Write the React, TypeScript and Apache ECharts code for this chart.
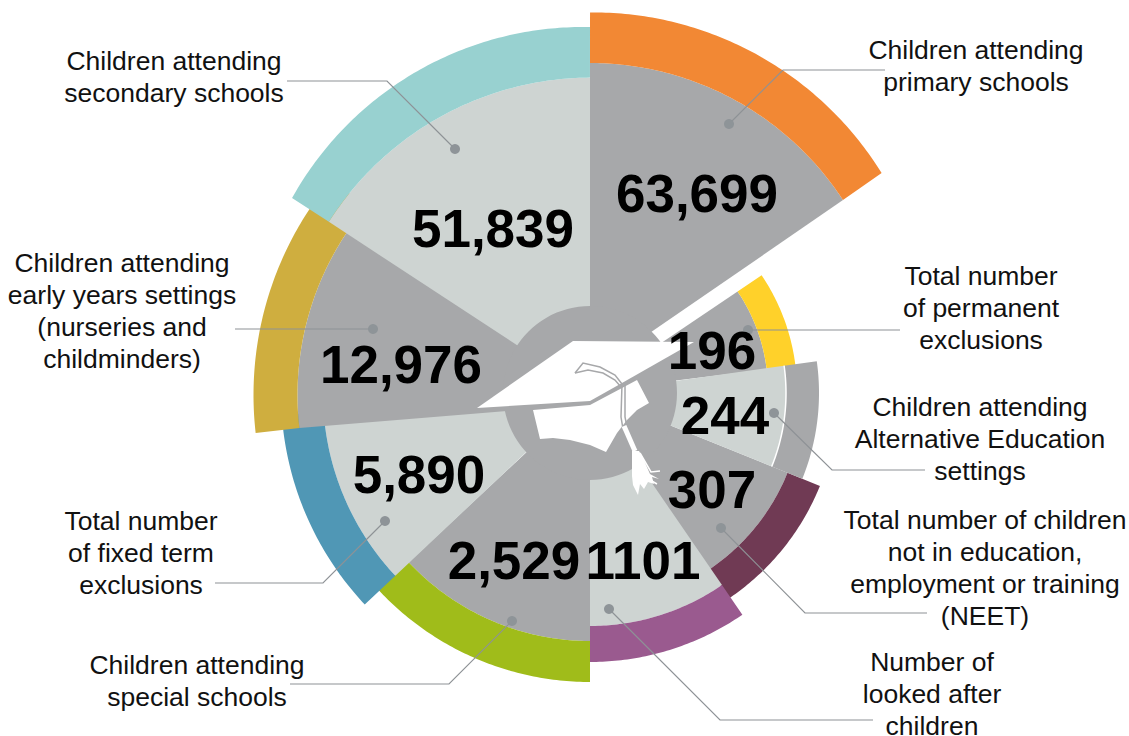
import React, { useEffect, useRef } from "react";
import * as echarts from "echarts";

const categories = [
  "Children attending primary schools",
  "Total number of permanent exclusions",
  "Total number of children not in education, employment or training (NEET)",
  "Children attending Alternative Education settings",
  "Children attending special schools",
  "Total number of fixed term exclusions",
  "Number of looked after children",
  "Children attending early years settings (nurseries and childminders)",
  "Children attending secondary schools",
];
const valueLabels = ["63,699", "196", "307", "244", "2,529", "5,890", "1101", "12,976", "51,839"];
const bandColors = ["#F28834", "#FFD12A", "#703A54", "#A7A8AA", "#A0BC1A", "#5097B5", "#9A5A8F", "#CFAE3F", "#98D1D0"];
const bodyColors = ["#A7A8AA", "#A7A8AA", "#A7A8AA", "#CED4D2", "#A7A8AA", "#CED4D2", "#CED4D2", "#A7A8AA", "#CED4D2"];

// layout of each slice: inner arc [cx, cy, r, a0, a1], outer arc [cx, cy, r, a0, a1] (deg clockwise from top), apex [x, y]
const geometry = [
  { inner: [590, 365, 302, 0, 56.9], outer: [593, 352, 339.6, -0.5, 58.2], apex: [590, 374] },
  { inner: [590, 391, 178, 56, 83], outer: [590, 391, 207, 56, 83], apex: [590, 391] },
  { inner: [590, 393, 213, 112, 146], outer: [590, 393, 248, 112, 146], apex: [590, 393] },
  { inner: [590, 393, 196, 82, 112], outer: [590, 393, 229, 82, 112], apex: [590, 393] },
  { inner: [590, 393, 248, 180, 227], outer: [590, 393, 289, 180, 227], apex: [590, 393] },
  { inner: [590, 393, 267, 226.8, 266], outer: [590, 393, 309, 226.8, 266], apex: [575, 406] },
  { inner: [590, 393, 233, 145.5, 180], outer: [590, 393, 269, 145.5, 180], apex: [590, 393] },
  { inner: [590, 395, 292.5, 263.5, 310], outer: [590, 395, 336.5, 263.5, 310], apex: [590, 404] },
  { inner: [591.6, 389, 311.4, 302.46, 359.7], outer: [583, 360, 333, 299.1, 361.2], apex: [590, 393] },
];
const numberPositions = [[697, 193], [712, 350], [712, 489], [725, 415], [514, 560], [419, 474], [643, 560], [401, 364], [493, 228]];

const labelBlocks = [
  { x: 976, y: 50, lines: ["Children attending", "primary schools"] },
  { x: 174, y: 61, lines: ["Children attending", "secondary schools"] },
  { x: 122, y: 263, lines: ["Children attending", "early years settings", "(nurseries and", "childminders)"] },
  { x: 981, y: 276, lines: ["Total number", "of permanent", "exclusions"] },
  { x: 980, y: 407, lines: ["Children attending", "Alternative Education", "settings"] },
  { x: 985, y: 520, lines: ["Total number of children", "not in education,", "employment or training", "(NEET)"] },
  { x: 932, y: 662, lines: ["Number of", "looked after", "children"] },
  { x: 197, y: 665, lines: ["Children attending", "special schools"] },
  { x: 141, y: 521, lines: ["Total number", "of fixed term", "exclusions"] },
];
const leaders = [
  [[729, 124], [783, 70], [885, 70]],
  [[455, 149], [387, 81], [287, 81]],
  [[373, 329], [235, 329]],
  [[748, 330], [900, 330]],
  [[774, 413], [832, 470], [925, 470]],
  [[721, 528], [805, 613], [927, 613]],
  [[609, 609], [720, 720], [873, 720]],
  [[512, 621], [449, 684], [290, 684]],
  [[385, 521], [323, 583], [215, 583]],
];

const GREY = "#A7A8AA";
const LINE = "#8E9296";
const DOT = "#8E9498";
const FONT = '"Liberation Sans", Arial, sans-serif';

function arc([cx, cy, r, a0, a1]: number[]) {
  const pts: number[][] = [];
  const n = Math.max(8, Math.ceil(Math.abs(a1 - a0) * 1.5));
  for (let i = 0; i <= n; i++) {
    const t = ((a0 + ((a1 - a0) * i) / n) * Math.PI) / 180;
    pts.push([cx + r * Math.sin(t), cy - r * Math.cos(t)]);
  }
  return pts;
}

function renderSlice(params: any) {
  const i = params.dataIndex;
  const g = geometry[i];
  const inner = arc(g.inner);
  const outer = arc(g.outer);
  const children: any[] = [
    { type: "polygon", shape: { points: [g.apex, ...inner] }, style: { fill: bodyColors[i] } },
    { type: "polygon", shape: { points: [...outer, ...inner.slice().reverse()] }, style: { fill: bandColors[i] } },
  ];
  if (valueLabels[i] === "244") {
    children.push({ type: "polyline", shape: { points: inner }, style: { stroke: "#FFFFFF", lineWidth: 1.5, fill: "none" } });
  }
  return { type: "group", children };
}

function renderNumber(params: any) {
  const i = params.dataIndex;
  const [x, y] = numberPositions[i];
  return {
    type: "text",
    style: {
      x,
      y,
      text: valueLabels[i],
      fill: "#000000",
      font: `bold 53px ${FONT}`,
      align: "center",
      verticalAlign: "middle",
    },
  };
}

const capTop = [[573, 341], [694, 342], [622, 383], [590, 401], [477, 408]];
const capBottom = [[533, 410], [590, 405], [622, 388], [637, 380], [649, 403], [637, 410], [627, 420], [617, 433], [606, 452], [590, 445], [570, 440], [553, 438], [540, 439]];
const tasselShape = [[632, 451], [639, 451], [643, 458], [650, 474], [659, 479], [652, 477], [654, 484], [648, 482], [644, 489], [640, 484], [638, 495], [633, 485], [632, 476]];
const tasselStrands = [
  [[640, 453], [651, 472], [660, 471]],
  [[641, 456], [650, 480], [657, 484]],
];

function hatElements() {
  const els: any[] = [
    { type: "circle", z: 5, shape: { cx: 590, cy: 393, r: 87 }, style: { fill: GREY } },
    { type: "polygon", z: 6, shape: { points: capTop }, style: { fill: "#FFFFFF" } },
    { type: "polygon", z: 6, shape: { points: capBottom }, style: { fill: "#FFFFFF" } },
    { type: "polyline", z: 7, shape: { points: [[575, 373], [583, 363], [600, 367], [615, 375], [622, 384]] }, style: { stroke: GREY, lineWidth: 1.5, fill: "none" } },
    { type: "polyline", z: 7, shape: { points: [[575, 373], [588, 370], [603, 373], [615, 380], [621, 387]] }, style: { stroke: GREY, lineWidth: 1.5, fill: "none" } },
    { type: "polyline", z: 7, shape: { points: [[622, 384], [621, 417], [623, 429]] }, style: { stroke: GREY, lineWidth: 1.5, fill: "none" } },
    { type: "polyline", z: 7, shape: { points: [[625, 384], [625, 417], [627, 427]] }, style: { stroke: GREY, lineWidth: 1.5, fill: "none" } },
    { type: "polyline", z: 7, shape: { points: [[624, 426], [635, 451]] }, style: { stroke: "#FFFFFF", lineWidth: 5, fill: "none" } },
    { type: "polygon", z: 7, shape: { points: tasselShape }, style: { fill: "#FFFFFF" } },
  ];
  tasselStrands.forEach((points) => {
    els.push({ type: "polyline", z: 7, shape: { points }, style: { stroke: "#FFFFFF", lineWidth: 1.5, fill: "none" } });
  });
  return els;
}

function leaderElements() {
  const els: any[] = [];
  leaders.forEach((points) => {
    els.push({ type: "polyline", z: 8, shape: { points }, style: { stroke: LINE, lineWidth: 1.2, fill: "none" } });
    els.push({ type: "circle", z: 9, shape: { cx: points[0][0], cy: points[0][1], r: 5 }, style: { fill: DOT } });
  });
  return els;
}

function labelElements() {
  const els: any[] = [];
  labelBlocks.forEach((b) => {
    b.lines.forEach((line, i) => {
      els.push({
        type: "text",
        z: 12,
        x: b.x,
        y: b.y + i * 32,
        style: { text: line, fill: "#111111", font: `26.5px ${FONT}`, lineHeight: 20, align: "center", verticalAlign: "middle" },
      });
    });
  });
  return els;
}

export default function App() {
  const ref = useRef<HTMLDivElement>(null);
  useEffect(() => {
    const chart = echarts.init(ref.current!, undefined, { renderer: "svg" });
    chart.setOption({
      animation: false,
      backgroundColor: "#FFFFFF",
      tooltip: { show: false },
      series: [
        {
          type: "custom",
          name: "slices",
          coordinateSystem: "none",
          z: 1,
          silent: true,
          data: categories.map((name, i) => ({ name, value: valueLabels[i] })),
          renderItem: renderSlice,
        },
        {
          type: "custom",
          name: "values",
          coordinateSystem: "none",
          z: 10,
          silent: true,
          data: categories.map((name, i) => ({ name, value: valueLabels[i] })),
          renderItem: renderNumber,
        },
      ],
      graphic: { elements: [...hatElements(), ...leaderElements(), ...labelElements()] },
    });
    return () => chart.dispose();
  }, []);
  return (
    <div style={{ position: "fixed", left: 0, top: 0, width: 1129, height: 736 }}>
      <div ref={ref} style={{ width: 1129, height: 736 }} />
    </div>
  );
}
